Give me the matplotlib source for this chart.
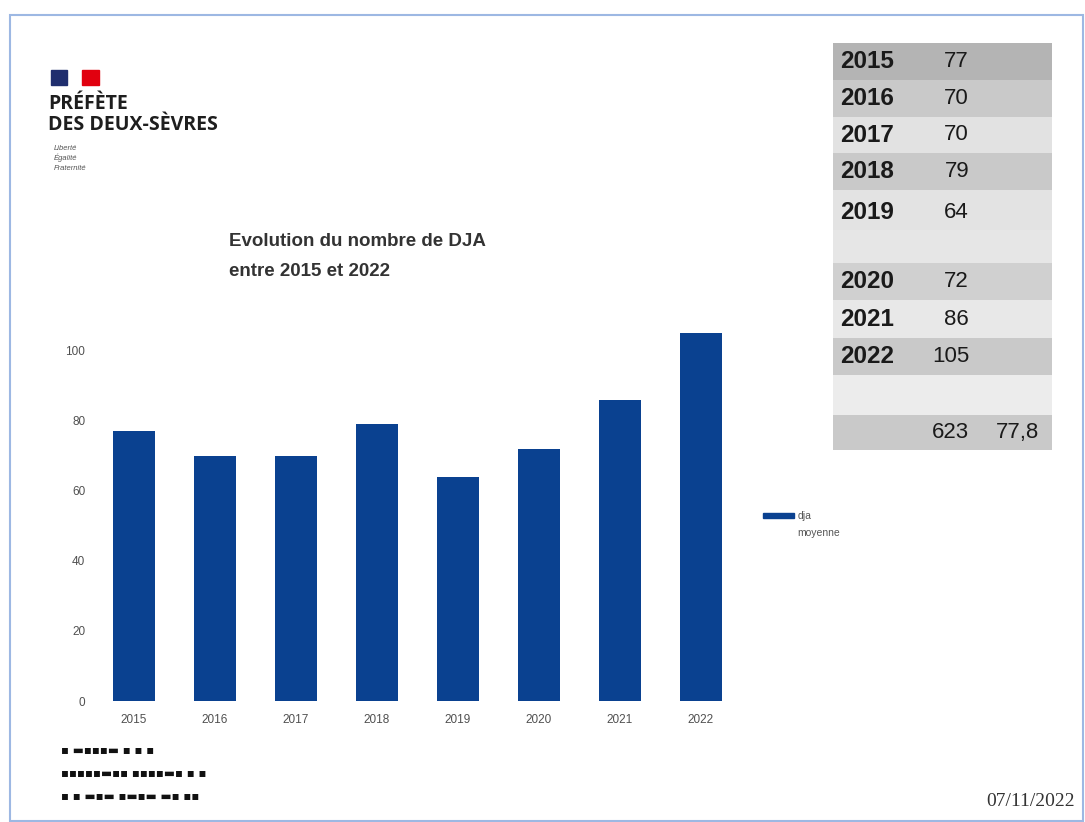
import numpy as np
import matplotlib
matplotlib.use("Agg")
import matplotlib.pyplot as plt
from matplotlib.patches import Rectangle, Patch
from matplotlib.lines import Line2D

# données
annees = ["2015", "2016", "2017", "2018", "2019", "2020", "2021", "2022"]
dja = [77, 70, 70, 79, 64, 72, 86, 105]
yticks = [0, 20, 40, 60, 80, 100]
titre = ["Evolution du nombre de DJA", "entre 2015 et 2022"]
date_txt = "07/11/2022"

total = sum(dja)
moyenne = np.floor(total / len(dja) * 10) / 10
moy_txt = f"{moyenne:.1f}".replace(".", ",")

bleu = "#0a4190"
plt.rcParams["font.family"] = ["Liberation Sans", "DejaVu Sans"]

fig = plt.figure(figsize=(10.85, 8.22), dpi=100)

# calque en coordonnées pixels pour le décor
ov = fig.add_axes([0, 0, 1, 1])
ov.set_xlim(0, 1085)
ov.set_ylim(822, 0)
ov.axis("off")

# cadre
ov.add_patch(Rectangle((10, 15), 1073, 806, fill=False, ec="#9db8e3", lw=1.5))

# logo
ov.add_patch(Rectangle((51, 70), 16, 15, color="#1f2e6e"))
ov.add_patch(Rectangle((82, 70), 17, 15, color="#e1000f"))
ov.text(48, 104, "PRÉFÈTE", fontsize=14, fontweight="bold", color="#1e1e1e",
        va="center", family=["Open Sans", "DejaVu Sans"])
ov.text(48, 125, "DES DEUX-SÈVRES", fontsize=14, fontweight="bold", color="#1e1e1e",
        va="center", family=["Open Sans", "DejaVu Sans"])
for i, mot in enumerate(["Liberté", "Égalité", "Fraternité"]):
    ov.text(54, 148 + i * 10, mot, fontsize=5.5, style="italic", color="#555555", va="center")

# titre
for i, ligne in enumerate(titre):
    ov.text(229, 241 + i * 30, ligne, fontsize=13.5, fontweight="bold", color="#333333",
            va="center", ha="left")

# tableau
lignes = [(a, str(v), "") for a, v in zip(annees[:5], dja[:5])]
lignes += [("", "", "")]
lignes += [(a, str(v), "") for a, v in zip(annees[5:], dja[5:])]
lignes += [("", "", ""), ("", str(total), moy_txt)]
bords = [43, 80, 117, 153, 190, 230, 263, 300, 338, 375, 415, 450]
fonds = ["#b4b4b4", "#c9c9c9", "#e2e2e2", "#c9c9c9", "#e3e3e3", "#e6e6e6",
         "#d0d0d0", "#e8e8e8", "#c9c9c9", "#ececec", "#c9c9c9"]
for i, (a, v, m) in enumerate(lignes):
    y0, y1 = bords[i], bords[i + 1]
    ov.add_patch(Rectangle((833, y0), 219, y1 - y0, color=fonds[i], lw=0))
    yc = (y0 + y1) / 2 if i != 4 else 212
    if a:
        ov.text(840, yc, a, fontsize=17.5, fontweight="bold", color="#1a1a1a", va="center")
    if v:
        ov.text(969, yc, v, fontsize=16, color="#1a1a1a", va="center", ha="right")
    if m:
        ov.text(1039, yc, m, fontsize=16, color="#1a1a1a", va="center", ha="right")

# texte bas de page
for i, s in enumerate(["▪ ▬▪▪▪▬ ▪ ▪ ▪", "▪▪▪▪▪▬▪▪ ▪▪▪▪▬▪ ▪ ▪", "▪ ▪ ▬▪▬ ▪▬▪▬ ▬▪ ▪▪"]):
    ov.text(61, 750 + i * 23, s, fontsize=8.5, color="#111111", va="center",
            family="DejaVu Sans")
ov.text(1031, 801, date_txt, fontsize=14, color="#333333", ha="center", va="center",
        family=["Liberation Serif", "DejaVu Serif"])

# graphique
ax = fig.add_axes([89.5 / 1085, 0.1472, 660 / 1085, 0.4684])
x = np.arange(len(annees))
barres = ax.bar(x, dja, width=0.52, color=bleu)
ax.set_xlim(-0.55, 7.6)
ax.set_ylim(0, 110)
ax.set_xticks(x)
ax.set_xticklabels(annees)
ax.set_yticks(yticks)
ax.tick_params(length=0, labelsize=8.5, labelcolor="#505050", pad=9)
ax.tick_params(axis="y", pad=3)
for s in ax.spines.values():
    s.set_visible(False)
ax.patch.set_alpha(0)

poignees = [Patch(color=bleu), Line2D([], [], color="none")]
fig.legend(poignees, ["dja", "moyenne"], loc="upper left",
           bbox_to_anchor=(754 / 1085, 1 - 502 / 822), frameon=False,
           fontsize=7.5, labelcolor="#555555", handlelength=2.9, handleheight=0.45,
           handletextpad=0.4, labelspacing=0.6)

fig.savefig("out.png", dpi=100)
